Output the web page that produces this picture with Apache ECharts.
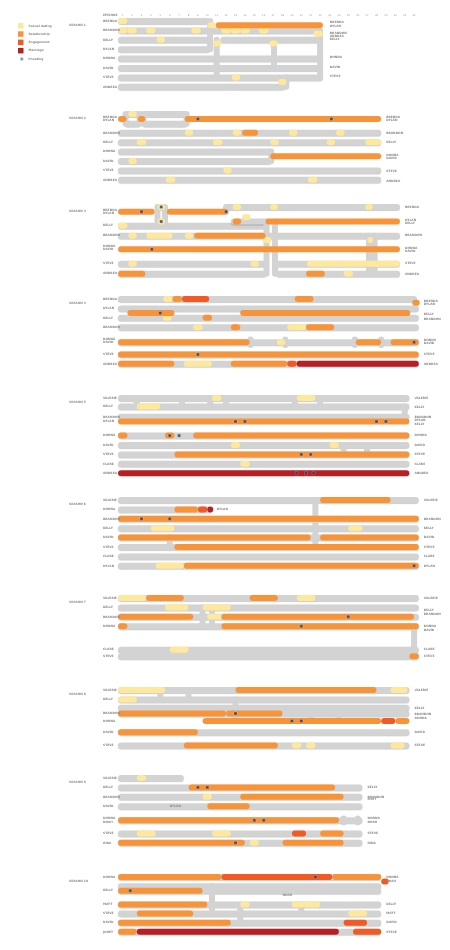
<!DOCTYPE html>
<html><head><meta charset="utf-8">
<script src="https://cdn.jsdelivr.net/npm/echarts/dist/echarts.min.js"></script>
<style>html,body{margin:0;padding:0;background:#fff}#c{width:450px;height:950px}</style>
</head><body><div id="c"></div>
<script>
// ---------- DATA ----------
const statusNames = ['Casual dating', 'Relationship', 'Engagement', 'Marriage'];
const cheatName = 'Cheating';
const episodeLabels = [1,2,3,4,5,6,7,8,9,10,11,12,13,14,15,16,17,18,19,20,21,22,23,24,25,26,27,28,29,30,31,32];
const seasonLabels = ['SEASON 1','SEASON 2','SEASON 3','SEASON 4','SEASON 5','SEASON 6','SEASON 7','SEASON 8','SEASON 9','SEASON 10'];
const seasonEpisodes = [22, 28, 30, 32, 31, 32, 32, 31, 26, 28];

// lanes: [row, name]; gray: [row, fromEp, toEp]; links: [ep, rowA, rowB]; bars: [row, fromEp, toEp, status]; cheat: [ep, row]; mid: [ep, row, name]
const s1Names = [[-0.65,'EPISODE'],[0,'BRENDA'],[1,'BRANDON'],[2,'KELLY'],[3,'DYLAN'],[4,'DONNA'],[5,'DAVID'],[6,'STEVE'],[7,'ANDREA']];
const s1Ends = [[0.18,'BRENDA'],[0.53,'DYLAN'],[1.28,'BRANDON'],[1.6,'ANDREA'],[1.9,'KELLY'],[3.9,'DONNA'],[4.9,'DAVID'],[5.9,'STEVE']];
const s1Gray = [[0,0.5,10.2],[1,0.5,22.3],[2,0.5,10.3],[3,0.5,10.3],[2,11.4,22.3],[4,0.5,22.3],[5,0.5,22.3],[6,0.5,22.3],[7,0.5,18.3]];
const s1Links = [[10.3,0,0.45],[10.3,0.45,3],[11,2,6],[17.1,2,5],[18.4,6,7],[22.0,1.3,6]];
const s1Bars = [[0,0.5,1.5,0],[0.45,10.0,10.9,0],[0.45,10.9,22.3,1],
  [1,0.5,1.5,0],[1,1.5,2.5,0],[1,3.5,4.5,0],[1,8.3,9.3,0],[1,11.5,12.5,0],[1,12.5,13.5,0],[1,13.5,14.5,0],[1,15.5,16.5,0],
  [1.35,21.3,22.3,0],[2,4.6,5.5,0],[2.4,10.6,11.5,0],[2.4,16.6,17.5,0],[6,12.6,13.5,0],[6.5,17.5,18.4,0]];
const s1Cheat = [];
const s1Mid = [];

const s2Names = [[0.29,'BRENDA'],[0.71,'DYLAN'],[2,'BRANDON'],[3,'KELLY'],[4,'DONNA'],[5,'DAVID'],[6,'STEVE'],[7,'ANDREA']];
const s2Ends = [[0.29,'BRENDA'],[0.71,'DYLAN'],[2.06,'BRANDON'],[3.05,'KELLY'],[4.35,'DONNA'],[4.7,'DAVID'],[6.06,'STEVE'],[7.1,'ANDREA']];
const s2Gray = [[0,1.2,2.9],[1.05,1.2,2.9],[0,3.1,7.9],[1.05,3.1,7.9],[2,0.5,28.5],[3,0.5,28.5],[4,0.5,16.9],[5,0.5,16.9],[6,0.5,28.5],[7,0.5,28.5]];
const s2Links = [[1.3,0,1.05],[2.8,0,1.05],[3.2,0,1.05],[7.8,0,1.05],[16.8,4,5]];
const s2Bars = [[0.53,0.5,1.4,1],[0,1.6,2.5,0],[0.53,2.6,3.4,1],[0.53,7.6,28.5,1],
  [2,7.6,8.5,0],[2,12.7,13.6,0],[2,13.7,15.4,1],[2,18.7,19.6,0],[2,23.7,24.6,0],
  [3,2.5,3.5,0],[3,10.6,11.6,0],[3,16.7,17.6,0],[3,22.7,23.6,0],[3,26.8,28.5,0],
  [5,1.6,2.5,0],[4.5,16.7,28.5,1],[6,11.7,12.6,0],[7,5.6,6.6,0],[7,20.7,21.7,0]];
const s2Cheat = [[9.0,0.53],[23.2,0.53]];
const s2Mid = [];

const s3Names = [[0.39,'BRENDA'],[0.67,'DYLAN'],[1.9,'KELLY'],[3.0,'BRANDON'],[4.2,'DONNA'],[4.5,'DAVID'],[6.0,'STEVE'],[7.05,'ANDREA']];
const s3Ends = [[0,'BRENDA'],[1.4,'DYLAN'],[1.7,'KELLY'],[3.0,'BRANDON'],[4.35,'DONNA'],[4.7,'DAVID'],[6.0,'STEVE'],[7.1,'ANDREA']];
const s3Gray = [[0,4.6,5.6],[1.55,4.6,5.6],[0,11.8,30.5],[2,0.5,16.3],[3.05,0.5,30.5],[6.05,0.5,16.3],[6.05,17.3,30.5],[7.1,0.5,16.3],[7.1,17.3,30.5],[1.55,12.5,16.5]];
const s3Links = [[4.7,0,1.55],[5.5,0,1.55],[12.0,0,0.5],[16.3,1.55,7.1],[17.2,1.55,7.1],[27.2,3.05,7.1],[27.8,3.05,7.1]];
const s3Bars = [[0.5,0.5,4.4,1],[0,4.7,5.5,0],[1.55,4.7,5.5,0],[0.5,5.7,12.2,1],[0,12.7,13.6,0],[0,16.7,17.5,0],[0,26.8,27.6,0],
  [1.55,12.7,13.6,1],[1.1,13.7,14.6,0],[1.55,16.2,30.5,1],[2,0.5,1.5,0],
  [3.05,1.6,2.5,0],[3.05,3.5,6.3,0],[3.05,7.6,8.5,0],[3.05,8.6,16.2,1],[3.5,15.9,16.8,0],[3.5,27.0,27.6,0],
  [4.5,0.5,30.5,1],[6.05,1.6,2.5,0],[6.05,14.6,15.5,0],[6.05,20.6,30.5,0],[7.1,0.5,3.4,1],[7.1,20.5,22.5,1],[7.1,24.5,25.5,0]];
const s3Cheat = [[3.0,0.5],[5.1,0],[5.1,1.55],[12.0,0.5],[4.1,4.5]];
const s3Mid = [];

const s4Names = [[0,'BRENDA'],[1,'DYLAN'],[2,'KELLY'],[3,'BRANDON'],[4.3,'DONNA'],[4.65,'DAVID'],[5.9,'STEVE'],[6.9,'ANDREA']];
const s4Ends = [[0.2,'BRENDA'],[0.55,'DYLAN'],[1.6,'KELLY'],[2.1,'BRANDON'],[4.4,'DONNA'],[4.75,'DAVID'],[5.9,'STEVE'],[6.9,'ANDREA']];
const s4Gray = [[0,0.5,32.3],[1,0.5,32.5],[2,0.5,32.5],[3,0.5,32.5],[4.6,0.5,32.5],[5.9,0.5,32.5],[6.9,0.5,32.5]];
const s4Links = [[14.6,4.3,4.9],[18.3,4.3,4.9],[25.7,4.3,4.9],[28.5,4.3,4.9]];
const s4Bars = [[0,5.3,6.3,0],[0,6.3,7.3,1],[0,7.3,10.2,2],[0,19.3,21.3,1],[0.4,31.8,32.6,1],
  [1.5,1.5,6.5,1],[2,5.3,6.2,0],[2,9.5,10.5,1],[1.5,13.5,31.6,1],
  [3,8.5,9.5,0],[3,12.5,13.5,1],[3,18.5,20.5,0],[3,20.5,23.5,1],
  [4.6,0.5,14.5,1],[4.6,17.4,18.3,0],[4.6,25.8,28.5,1],[4.6,29.5,32.5,1],
  [5.9,0.5,32.5,1],[6.9,0.5,6.5,1],[6.9,7.5,10.5,0],[6.9,12.5,18.5,1],[6.9,18.5,19.5,2],[6.9,19.5,32.5,3]];
const s4Cheat = [[5,1.5],[32,4.6],[9,5.9]];
const s4Mid = [];

const s5Names = [[0,'VALERIE'],[0.9,'KELLY'],[2,'BRANDON'],[2.5,'DYLAN'],[4,'DONNA'],[5,'DAVID'],[6,'STEVE'],[7,'CLARE'],[8,'ANDREA']];
const s5Ends = [[0,'VALERIE'],[1.0,'KELLY'],[2.0,'BRANDON'],[2.4,'DYLAN'],[2.8,'KELLY'],[4,'DONNA'],[5,'DAVID'],[6,'STEVE'],[7,'CLARE'],[8,'ANDREA']];
const s5Gray = [[0,0.5,31.5],[0.9,0.5,31.5],[2,0.5,31.5],[4,0.5,31.5],[5,0.5,31.5],[6,0.5,31.5],[7,0.5,31.5]];
const s5Links = [[2.5,0,0.9],[7.3,0,0.9],[10.3,0,0.9],[12,0,0.9],[19.3,0,0.9],[22,0,0.9],[31,0.9,2],[24.5,5,6],[27,5,6]];
const s5Bars = [[0.9,2.5,5,0],[0,10.5,11.5,0],[0,19.5,21.5,0],[2.5,0.5,31.5,1],[4,0.5,1.5,1],[4,5.5,6.5,1],[4,8.5,31.5,1],
  [5,12.5,13.5,0],[5,23,24,0],[6,6.5,31.5,1],[7,13.5,14.5,0],[8,0.5,31.5,3]];
const s5Cheat = [[13,2.5],[14,2.5],[28,2.5],[29,2.5],[6,4],[7,4],[20,6],[21,6],[19.5,8],[20.5,8],[21.3,8]];
const s5Mid = [];

const s6Names = [[0,'VALERIE'],[1,'DONNA'],[2,'BRANDON'],[3,'KELLY'],[4,'DAVID'],[5,'STEVE'],[6,'CLARE'],[7,'DYLAN']];
const s6Ends = [[0,'VALERIE'],[2,'BRANDON'],[3,'KELLY'],[4,'DAVID'],[5,'STEVE'],[6,'CLARE'],[7,'DYLAN']];
const s6Gray = [[0,0.5,32.5],[1,0.5,10.5],[2,0.5,32.5],[3,0.5,32.5],[4,0.5,32.5],[5,0.5,32.5],[6,0.5,32.5],[7,0.5,32.5]];
const s6Links = [[21.5,0,5],[6.0,4,5]];
const s6Bars = [[0,22,29.5,1],[1,6.5,9,1],[1,9,10,2],[1,10,10.6,3],[2,0.5,32.5,1],[3,4,6.5,0],[3,25,26.5,0],
  [4,0.5,21,1],[4,22,32.5,1],[5,6.5,32.5,1],[7,4.5,7.5,0],[7,7.5,32.5,1]];
const s6Cheat = [[3,2],[6,2],[32,7]];
const s6Mid = [[11.0,1,'DYLAN']];

const s7Names = [[0,'VALERIE'],[1,'KELLY'],[2,'BRANDON'],[3,'DONNA'],[5.5,'CLARE'],[6.2,'STEVE']];
const s7Ends = [[0,'VALERIE'],[1.3,'KELLY'],[1.7,'BRANDON'],[3,'DONNA'],[3.4,'DAVID'],[5.5,'CLARE'],[6.2,'STEVE']];
const s7Gray = [[0,0.5,32.5],[1,0.5,32.5],[2,0.5,32.5],[3,0.5,32.5],[5.5,0.5,32.5],[6.2,0.5,32.5]];
const s7Links = [[9.5,1,3],[10.5,1,3],[32,3,6.2]];
const s7Bars = [[0,0.5,3.5,0],[0,3.5,7.5,1],[0,14.5,17.5,1],[0,19.5,21.5,0],[1,5.5,8,0],[1,9.5,12.5,0],
  [2,0.5,8.5,1],[2,10,11.5,0],[2,11.5,32,1],[3,0.5,1.5,1],[3,11.5,32.5,1],[5.5,6,8,0],[6.2,31.5,32.5,1]];
const s7Cheat = [[25,2],[20,3]];
const s7Mid = [];

const s8Names = [[0,'VALERIE'],[1,'KELLY'],[2.5,'BRANDON'],[3.3,'DONNA'],[4.5,'DAVID'],[5.9,'STEVE']];
const s8Ends = [[0,'VALERIE'],[1.9,'KELLY'],[2.6,'BRANDON'],[3.0,'DONNA'],[4.5,'DAVID'],[5.9,'STEVE']];
const s8Gray = [[0,0.5,31.5],[1,0.5,31.5],[1.9,0.5,31.5],[2.5,0.5,31.5],[4.5,0.5,31.5],[5.9,0.5,31.5]];
const s8Links = [[5,0,1],[8,0,1],[13,1,3.3],[21,2.5,3.3],[24,2.5,3.3]];
const s8Bars = [[0,0.5,5.5,0],[0,13,28,1],[0,29.5,31.3,0],[1,0.5,2.5,0],[2.5,0.5,12,1],[2.5,12,18,1],[3.3,9.5,28.5,1],[3.3,28.5,30,2],[3.3,30,31.5,1],[4.5,0.5,9,1],
  [5.9,7.5,17.5,1],[5.9,19,20,0],[5.9,20.5,21.5,0],[5.9,29.5,31,0]];
const s8Cheat = [[13,2.5],[19,3.3],[20,3.3]];
const s8Mid = [];

const s9Names = [[0,'VALERIE'],[1,'KELLY'],[2,'BRANDON'],[3,'DAVID'],[4.3,'DONNA'],[4.7,'NOAH'],[5.9,'STEVE'],[6.9,'GINA']];
const s9Ends = [[1,'KELLY'],[2,'BRANDON'],[2.3,'MATT'],[4.3,'DONNA'],[4.7,'NOAH'],[5.9,'STEVE'],[6.9,'GINA']];
const s9Gray = [[0,0.5,7.5],[1,0.5,26.5],[2,0.5,26.5],[3,0.5,26.5],[4.5,0.5,26.5],[5.9,0.5,26.5],[6.9,0.5,26.5]];
const s9Links = [[24.5,4.3,4.7],[26,4.3,4.7]];
const s9Bars = [[0,2.5,3.5,0],[1,8,23.6,1],[2,13.5,24.5,1],[2,9.5,10.5,0],[3,10,14.5,1],[4.5,0.5,24,1],
  [5.9,2.5,4.5,0],[5.9,10.5,12.5,0],[5.9,19,20.5,2],[5.9,22,24.5,1],[6.9,0.5,14,1],[6.9,14.5,15.5,0],[6.9,18,24.5,1]];
const s9Cheat = [[9,1],[10,1],[15,4.5],[16,4.5],[13,6.9]];
const s9Mid = [[6.0,3,'DYLAN']];

const s10Names = [[0,'DONNA'],[1.5,'KELLY'],[3,'MATT'],[4,'STEVE'],[5,'DAVID'],[6,'JANET']];
const s10Ends = [[0,'DONNA'],[0.5,'NOAH'],[3,'KELLY'],[4,'MATT'],[5,'DAVID'],[6,'STEVE']];
const s10Gray = [[0,0.5,28.5],[1,0.5,28.5],[1.5,0.5,28.5],[3,0.5,28.5],[4,0.5,28.5],[5,0.5,28.5],[6,0.5,28.5]];
const s10Links = [[10.5,1,4],[13.5,3,5],[20,3,4]];
const s10Bars = [[0,0.5,11.5,1],[0,11.5,23.3,2],[0,23.3,28.5,1],[0.5,28.5,29.3,2],[1.5,0.5,9.5,1],[3,0.5,10,1],[3,13.5,14.5,0],[3,19,22,0],
  [4,2.5,8.5,1],[4,25,27,0],[5,0.5,12.5,1],[5,24.5,27,2],[6,0.5,2.5,1],[6,2.5,24,3],[6,25.5,28.5,2]];
const s10Cheat = [[1.8,1.5],[21.5,0]];
const s10Mid = [[18.0,2,'NOAH']];

// ---------- BUILD ----------
const seasons = [
  [s1Names,s1Ends,s1Gray,s1Links,s1Bars,s1Cheat,s1Mid],
  [s2Names,s2Ends,s2Gray,s2Links,s2Bars,s2Cheat,s2Mid],
  [s3Names,s3Ends,s3Gray,s3Links,s3Bars,s3Cheat,s3Mid],
  [s4Names,s4Ends,s4Gray,s4Links,s4Bars,s4Cheat,s4Mid],
  [s5Names,s5Ends,s5Gray,s5Links,s5Bars,s5Cheat,s5Mid],
  [s6Names,s6Ends,s6Gray,s6Links,s6Bars,s6Cheat,s6Mid],
  [s7Names,s7Ends,s7Gray,s7Links,s7Bars,s7Cheat,s7Mid],
  [s8Names,s8Ends,s8Gray,s8Links,s8Bars,s8Cheat,s8Mid],
  [s9Names,s9Ends,s9Gray,s9Links,s9Bars,s9Cheat,s9Mid],
  [s10Names,s10Ends,s10Gray,s10Links,s10Bars,s10Cheat,s10Mid]
];
const U = 9.4, X0 = 118, BAR = 6, ROWS = 8;
const seasonTop = [21,114,207,299,398,500,598,690,778,877];
const colors = ['#fde89c','#f7943a','#ef5a25','#b71f24'];
const grayColor = '#d3d3d3';
const cheatColor = '#23395b';
const textColor = '#8c8c8c';
const FS = 3;
const FONT = 'DejaVu Sans';

function textItem(x, y, txt){
  return {type:'text', x, y, style:{text:txt, fontSize:FS, fontWeight:'bold', fontFamily:FONT,
    fill:textColor, align:'left', verticalAlign:'middle'}};
}

const grid = [], xAxis = [], yAxis = [], series = [], title = [];
seasons.forEach((s, i) => {
  const [names, ends, gray, links, bars, cheat, mid] = s;
  const n = seasonEpisodes[i];
  grid.push({left: X0, top: seasonTop[i], width: n * U, height: ROWS * U});
  xAxis.push({type:'value', gridIndex:i, min:0.5, max:n+0.5, show:false});
  yAxis.push({type:'value', gridIndex:i, min:0, max:ROWS, inverse:true, show:false});
  title.push({text: seasonLabels[i], left: 64, top: seasonTop[i] - 1.8,
    textStyle:{fontSize:FS, color:textColor, fontWeight:'bold', fontFamily:FONT}});
  const base = {xAxisIndex:i, yAxisIndex:i, clip:false, silent:true, animation:false};
  series.push(Object.assign({}, base, {type:'custom', name:'track', data: gray.map(g => [g[1], g[2], g[0]]),
    encode:{x:[0,1], y:2},
    renderItem(p, api){
      const a = api.coord([api.value(0), api.value(2)]), b = api.coord([api.value(1), api.value(2)]);
      return {type:'rect', shape:{x:a[0], y:a[1]-BAR/2, width:Math.max(b[0]-a[0], BAR), height:BAR, r:BAR/2},
        style:{fill:grayColor, shadowColor:'rgba(0,0,0,0.2)', shadowBlur:1, shadowOffsetY:1}};
    }}));
  series.push(Object.assign({}, base, {type:'custom', name:'link', data: links.map(l => [l[0], l[1], l[2]]),
    encode:{x:0, y:[1,2]},
    renderItem(p, api){
      const a = api.coord([api.value(0), api.value(1)]), b = api.coord([api.value(0), api.value(2)]);
      const y0 = Math.min(a[1], b[1]), y1 = Math.max(a[1], b[1]);
      return {type:'rect', shape:{x:a[0]-BAR/2, y:y0-BAR/2, width:BAR, height:y1-y0+BAR, r:BAR/2},
        style:{fill:grayColor}};
    }}));
  statusNames.forEach((nm, k) => {
    series.push(Object.assign({}, base, {type:'custom', name:nm, itemStyle:{color:colors[k]},
      data: bars.filter(b => b[3] === k).map(b => [b[1], b[2], b[0]]),
      encode:{x:[0,1], y:2},
      renderItem(p, api){
        const a = api.coord([api.value(0), api.value(2)]), b = api.coord([api.value(1), api.value(2)]);
        return {type:'rect', shape:{x:a[0], y:a[1]-BAR/2, width:Math.max(b[0]-a[0], BAR), height:BAR, r:BAR/2},
          style:{fill:colors[k]}};
      }}));
  });
  series.push(Object.assign({}, base, {type:'scatter', name:cheatName, data: cheat, symbol:'rect', symbolSize:3,
    itemStyle:{color:cheatColor, borderColor:'rgba(255,255,255,0.6)', borderWidth:0.4}, z:5}));
  series.push(Object.assign({}, base, {type:'custom', name:'leftLabels', data: names.map(d => [0.5, d[0]]),
    encode:{x:0, y:1},
    renderItem(p, api){
      const c = api.coord([0.5, api.value(1)]);
      return textItem(c[0]-15, c[1], names[p.dataIndex][1]);
    }}));
  series.push(Object.assign({}, base, {type:'custom', name:'rightLabels', data: ends.map(d => [n + 0.5, d[0]]),
    encode:{x:0, y:1},
    renderItem(p, api){
      const c = api.coord([n + 0.5, api.value(1)]);
      return textItem(c[0]+5, c[1], ends[p.dataIndex][1]);
    }}));
  series.push(Object.assign({}, base, {type:'custom', name:'midLabels', data: mid.map(d => [d[0], d[1]]),
    encode:{x:0, y:1},
    renderItem(p, api){
      const c = api.coord([api.value(0), api.value(1)]);
      return textItem(c[0], c[1], mid[p.dataIndex][2]);
    }}));
});
grid.push({left: X0, top: 16.5, width: 32 * U, height: 1});
xAxis.push({type:'category', gridIndex:10, data: episodeLabels, position:'top',
  axisLine:{show:false}, axisTick:{show:false},
  axisLabel:{interval:0, fontSize:2.5, color:'#9a9a9a', margin:0, fontFamily:FONT}});
yAxis.push({type:'value', gridIndex:10, show:false});

const chart = echarts.init(document.getElementById('c'), null, {renderer:'canvas'});
chart.setOption({
  animation:false,
  backgroundColor:'#fff',
  title,
  legend:[
    {data: statusNames, orient:'vertical', left:13, top:18, itemWidth:5.5, itemHeight:5.5, itemGap:2.8, icon:'rect',
     textStyle:{fontSize:FS, color:textColor, fontFamily:FONT, fontWeight:'bold'}, selectedMode:false},
    {data:[cheatName], orient:'vertical', left:14.3, top:51.5, itemWidth:3, itemHeight:3, icon:'rect',
     textStyle:{fontSize:FS, color:textColor, fontFamily:FONT, fontWeight:'bold'}, selectedMode:false}
  ],
  grid, xAxis, yAxis, series
});
</script></body></html>
